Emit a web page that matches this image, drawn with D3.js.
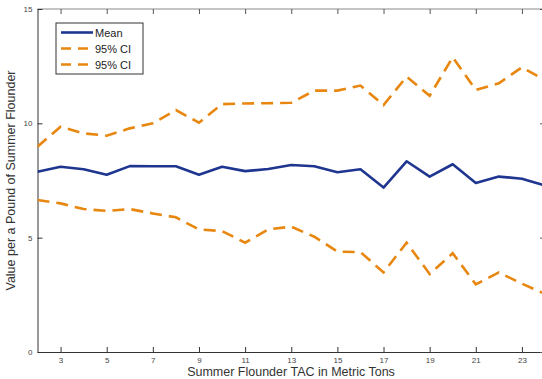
<!DOCTYPE html>
<html>
<head>
<meta charset="utf-8">
<script src="https://cdn.jsdelivr.net/npm/d3@7"></script>
<style>
  body { margin: 0; background: #fff; }
  svg { font-family: "Liberation Sans", Arial, sans-serif; }
</style>
</head>
<body>
<div id="chart"></div>
<script>
const tac = [2, 3, 4, 5, 6, 7, 8, 9, 10, 11, 12, 13, 14, 15, 16, 17, 18, 19, 20, 21, 22, 23, 24];
const meanVals = [7.88, 8.10, 7.99, 7.75, 8.13, 8.12, 8.12, 7.75, 8.10, 7.91, 8.00, 8.18, 8.12, 7.86, 7.99, 7.19, 8.34, 7.67, 8.21, 7.39, 7.67, 7.58, 7.28];
const upperCI = [8.98, 9.85, 9.56, 9.46, 9.78, 10.0, 10.58, 10.03, 10.84, 10.87, 10.88, 10.9, 11.43, 11.43, 11.65, 10.80, 12.04, 11.21, 12.89, 11.46, 11.75, 12.45, 11.89];
const lowerCI = [6.65, 6.50, 6.25, 6.17, 6.25, 6.06, 5.89, 5.36, 5.29, 4.78, 5.36, 5.48, 5.04, 4.39, 4.37, 3.48, 4.78, 3.41, 4.32, 2.96, 3.48, 2.99, 2.54];
const xTicks = [3, 5, 7, 9, 11, 13, 15, 17, 19, 21, 23];
const yTicks = [0, 5, 10, 15];
const legendNames = ["Mean", "95% CI", "95% CI"];

const W = 542, H = 379;
const margin = { top: 9, right: -3, bottom: 27, left: 37.5 };
const width = W - margin.left - margin.right;
const height = H - margin.top - margin.bottom;

const blue = "#1f3690", orange = "#e8870f";

const svg = d3.select("#chart").append("svg")
  .attr("width", W)
  .attr("height", H);

const defs = svg.append("defs");
defs.append("clipPath").attr("id", "clip")
  .append("rect").attr("width", width).attr("height", height);

const g = svg.append("g")
  .attr("transform", "translate(" + margin.left + "," + margin.top + ")");

const x = d3.scaleLinear().domain([2, 24]).range([0, width]);
const y = d3.scaleLinear().domain([0, 15]).range([height, 0]);

// box (top and right)
g.append("line").attr("x1", 0).attr("x2", width).attr("y1", 0).attr("y2", 0)
  .attr("stroke", "#888").attr("stroke-width", 1);
g.append("line").attr("x1", width).attr("x2", width).attr("y1", 0).attr("y2", height)
  .attr("stroke", "#888").attr("stroke-width", 1);

// bottom axis, ticks inward
const xAxis = g.append("g")
  .attr("transform", "translate(0," + height + ")")
  .call(d3.axisBottom(x).tickValues(xTicks).tickSizeInner(-5).tickSizeOuter(0).tickPadding(5));
xAxis.select(".domain").attr("stroke", "#333");
xAxis.selectAll(".tick line").attr("stroke", "#333");
xAxis.selectAll("text").attr("font-size", 8).attr("fill", "#444");

// top ticks
g.append("g")
  .call(d3.axisTop(x).tickValues(xTicks).tickSizeInner(-5).tickSizeOuter(0).tickFormat(""))
  .call(s => s.select(".domain").remove())
  .selectAll(".tick line").attr("stroke", "#555");

const yAxis = g.append("g")
  .call(d3.axisLeft(y).tickValues(yTicks).tickSizeInner(-5).tickSizeOuter(0).tickPadding(5));
yAxis.select(".domain").attr("stroke", "#333");
yAxis.selectAll(".tick line").attr("stroke", "#333");
yAxis.selectAll("text").attr("font-size", 8).attr("fill", "#444");

g.append("g")
  .attr("transform", "translate(" + width + ",0)")
  .call(d3.axisRight(y).tickValues(yTicks).tickSizeInner(-5).tickSizeOuter(0).tickFormat(""))
  .call(s => s.select(".domain").remove())
  .selectAll(".tick line").attr("stroke", "#555");

// lines
const line = d3.line().x((d, i) => x(tac[i])).y(d => y(d));
const plot = g.append("g").attr("clip-path", "url(#clip)");

plot.append("path").datum(upperCI)
  .attr("fill", "none").attr("stroke", orange).attr("stroke-width", 2.6)
  .attr("stroke-dasharray", "12,7").attr("d", line);
plot.append("path").datum(lowerCI)
  .attr("fill", "none").attr("stroke", orange).attr("stroke-width", 2.6)
  .attr("stroke-dasharray", "12,7").attr("d", line);
plot.append("path").datum(meanVals)
  .attr("fill", "none").attr("stroke", blue).attr("stroke-width", 2.6)
  .attr("stroke-linejoin", "round").attr("d", line);

// legend
const lg = svg.append("g").attr("transform", "translate(56,23)");
lg.append("rect").attr("width", 87).attr("height", 51)
  .attr("fill", "#fff").attr("stroke", "#333").attr("stroke-width", 1);
const styles = [
  { color: blue, dash: null },
  { color: orange, dash: "10,7" },
  { color: orange, dash: "10,7" }
];
legendNames.forEach((name, i) => {
  const yy = 9.5 + i * 16;
  lg.append("line").attr("x1", 5).attr("x2", 37).attr("y1", yy).attr("y2", yy)
    .attr("stroke", styles[i].color).attr("stroke-width", 2.6)
    .attr("stroke-dasharray", styles[i].dash);
  lg.append("text").attr("x", 39).attr("y", yy + 4)
    .attr("font-size", 11).attr("fill", "#222").text(name);
});

// axis titles
svg.append("text")
  .attr("x", 291).attr("y", 376)
  .attr("text-anchor", "middle").attr("font-size", 12.5).attr("fill", "#333")
  .text("Summer Flounder TAC in Metric Tons");

svg.append("text")
  .attr("transform", "translate(15," + (margin.top + height / 2) + ") rotate(-90)")
  .attr("text-anchor", "middle").attr("font-size", 12.5).attr("fill", "#333")
  .text("Value per a Pound of Summer Flounder");
</script>
</body>
</html>
